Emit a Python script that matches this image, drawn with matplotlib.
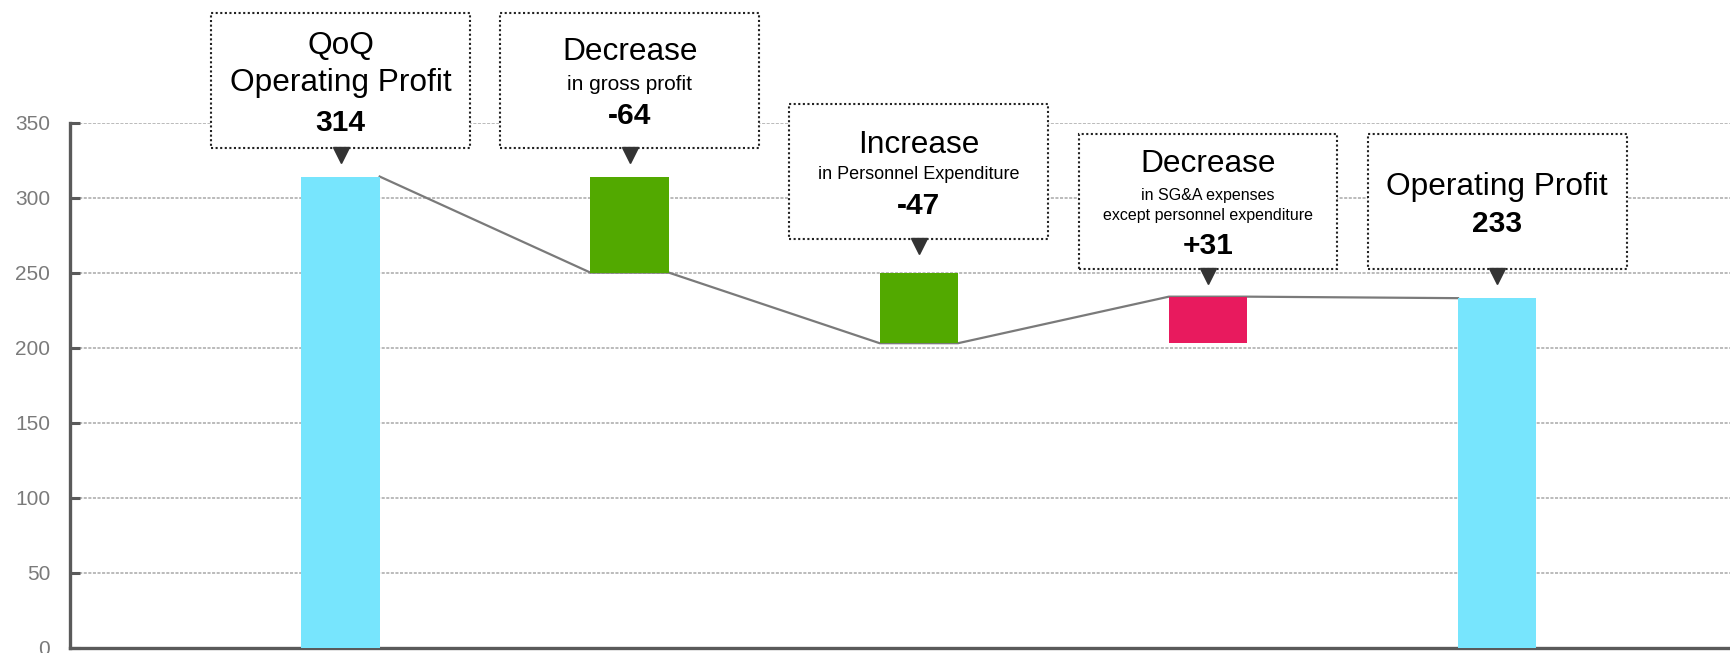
import matplotlib.pyplot as plt
from matplotlib.patches import Rectangle
import numpy as np

# Operating profit bridge
start_value = 314
changes = [-64, -47, 31]
end_value = 233
bar_colors = ["#77E5FD", "#52A900", "#52A900", "#E81A5E", "#77E5FD"]

# Callout text: (text, size, bold, baseline offset in px from box centre)
callouts = [
    [("QoQ", 22.8, False, -26), ("Operating Profit", 22.8, False, 11),
     ("314", 21.5, True, 51)],
    [("Decrease", 22.8, False, -20), ("in gross profit", 15, False, 9.5),
     ("-64", 21.5, True, 44)],
    [("Increase", 22.8, False, -18), ("in Personnel Expenditure", 13, False, 8),
     ("-47", 21.5, True, 42.5)],
    [("Decrease", 22.8, False, -29), ("in SG&A expenses", 11.5, False, -1.5),
     ("except personnel expenditure", 11.5, False, 18.5),
     ("+31", 21.5, True, 52.5)],
    [("Operating Profit", 22.8, False, -6.5), ("233", 21.5, True, 31)],
]
box_bottoms = [333, 333, 272.5, 252.5, 252.5]

plt.rcParams["font.family"] = ["Liberation Sans", "DejaVu Sans"]

# running totals after each step
levels = [start_value]
for c in changes:
    levels.append(levels[-1] + c)
levels.append(end_value)
bottoms = [0] + [min(levels[i], levels[i + 1]) for i in range(len(changes))] + [0]
tops = [start_value] + [max(levels[i], levels[i + 1]) for i in range(len(changes))] + [end_value]
heights = np.array(tops) - np.array(bottoms)

x = np.arange(len(levels))
width = 0.271

fig = plt.figure(figsize=(17.3, 6.53), dpi=100)
ax = fig.add_axes([0.0402, 0.0077, 0.9598, 0.8047])

# connector through running totals, hidden behind the bars
line_x, line_y = [], []
for xi, lv in zip(x, levels):
    line_x += [xi - width / 2, xi + width / 2]
    line_y += [lv, lv]
line_x[1] = x[0] + width / 2
line_y[1] = start_value
ax.plot(line_x[1:-1], line_y[1:-1], color="#7a7a7a", lw=1.6, zorder=2)

ax.bar(x, heights, width=width, bottom=bottoms, color=bar_colors, zorder=3)

ax.set_xlim(-0.937, 4.805)
ax.set_ylim(0, 350)
ax.set_yticks(np.arange(0, 351, 50))
ax.set_xticks([])
ax.yaxis.grid(True, color="#a8a8a8", lw=1.1, ls=(0, (2, 1)))
ax.set_axisbelow(True)
for side in ["top", "right"]:
    ax.spines[side].set_visible(False)
for side in ["left", "bottom"]:
    ax.spines[side].set_color("#5a5a5a")
    ax.spines[side].set_linewidth(2.4)
ax.tick_params(axis="y", direction="in", length=7, width=2.2, color="#5a5a5a",
               labelsize=15, labelcolor="#7a7a7a", pad=14)

# dotted callout boxes with pointer
box_w = 0.895
box_h = 90
for xi, bb, lines in zip(x, box_bottoms, callouts):
    ax.add_patch(Rectangle((xi - box_w / 2, bb), box_w, box_h, facecolor="white",
                           edgecolor="#222222", lw=1.5, ls=(0, (1, 1.2)),
                           clip_on=False, zorder=5))
    ax.plot(xi, bb - 4.5, marker="v", color="#333333", markersize=11,
            clip_on=False, zorder=6)
    yc = bb + box_h / 2
    for text, size, bold, off in lines:
        ax.annotate(text, (xi, yc), xytext=(0, -off), textcoords="offset pixels",
                    ha="center", va="baseline", fontsize=size,
                    fontweight="bold" if bold else "normal", color="black",
                    annotation_clip=False, zorder=7)

fig.savefig("out.png", dpi=100)
